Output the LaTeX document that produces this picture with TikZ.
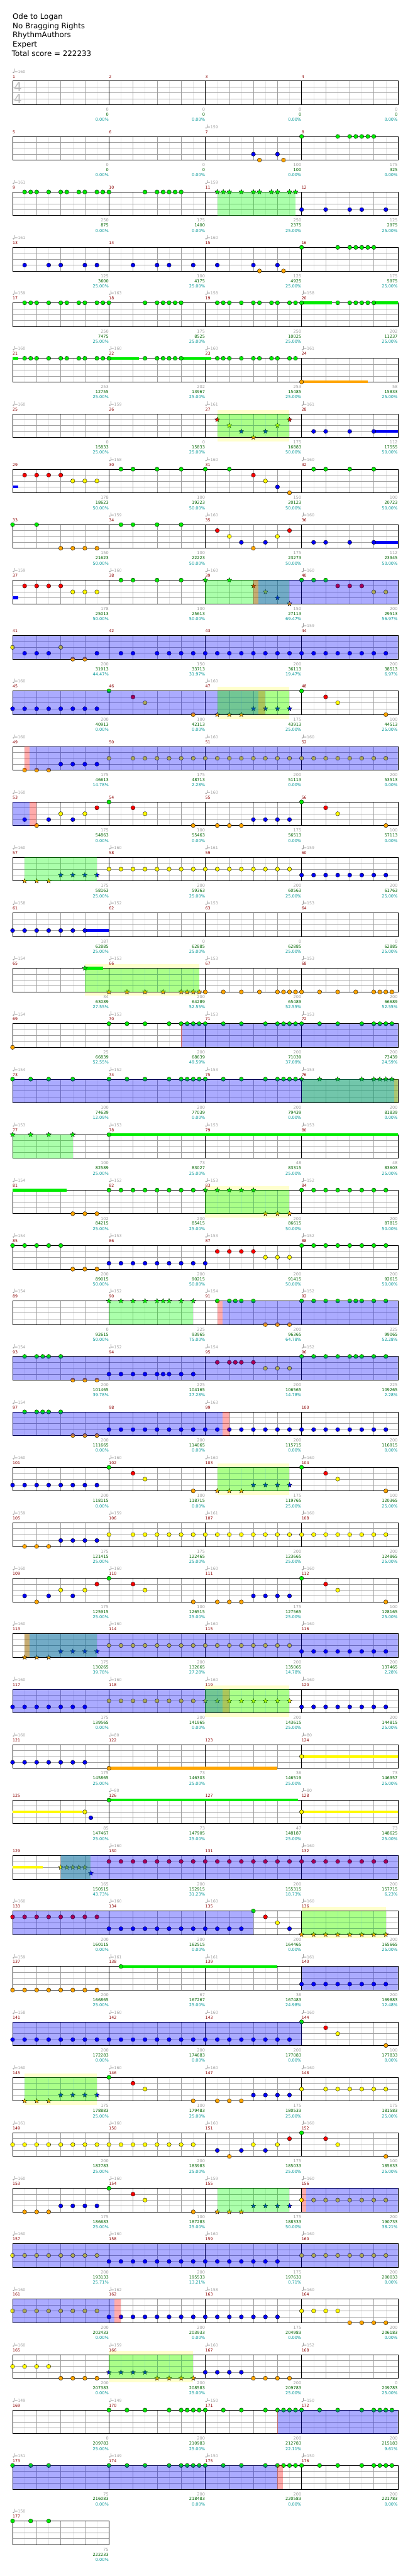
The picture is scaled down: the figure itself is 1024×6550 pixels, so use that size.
\documentclass[tikz,border=0pt]{standalone}
\usepackage{fontspec}
\setmainfont{DejaVu Sans}
\usetikzlibrary{shapes.geometric}
\definecolor{NoteGreen}{RGB}{0,235,0}
\definecolor{NoteRed}{RGB}{250,0,0}
\definecolor{NoteYellow}{RGB}{255,250,0}
\definecolor{NoteBlue}{RGB}{0,0,245}
\definecolor{NoteOrange}{RGB}{255,165,0}
\colorlet{lane0}{NoteGreen}
\colorlet{lane1}{NoteRed}
\colorlet{lane2}{NoteYellow}
\colorlet{lane3}{NoteBlue}
\colorlet{lane4}{NoteOrange}
\definecolor{SPGreen}{RGB}{0,255,0}
\definecolor{SPBlue}{RGB}{0,0,255}
\definecolor{SPRed}{RGB}{255,0,0}
\definecolor{PaleYellow}{RGB}{255,255,205}
\definecolor{BarRed}{RGB}{139,0,0}
\definecolor{LabelGray}{RGB}{160,160,160}
\definecolor{ScoreGreen}{RGB}{0,100,0}
\definecolor{PctTeal}{RGB}{0,150,150}
\definecolor{BeatGray}{RGB}{160,160,160}
\definecolor{HalfGray}{RGB}{230,230,230}

\pgfdeclarelayer{pale}
\pgfdeclarelayer{grid}
\pgfdeclarelayer{hold}
\pgfdeclarelayer{over}
\pgfsetlayers{pale,grid,hold,main,over}

% row, lane, beats
\newcommand{\gems}[3]{%
  \foreach \b in {#3}
    \draw[gem, fill=lane#2] ({32+61.25*\b},{206+141*(#1-1)+15*#2}) circle[radius=5.3pt];}
\newcommand{\stargems}[3]{%
  \foreach \b in {#3}
    \node[spstar, fill=lane#2] at ({32+61.25*\b},{206+141*(#1-1)+15*#2}) {};}
% row, lane, from, to
\newcommand{\holdbar}[4]{%
  \begin{pgfonlayer}{hold}
    \fill[lane#2] ({32+61.25*#3},{206+141*(#1-1)+15*#2-3.5}) rectangle ({32+61.25*#4},{206+141*(#1-1)+15*#2+3.5});
  \end{pgfonlayer}}
% row, colour, from, to
\newcommand{\zone}[4]{%
  \begin{pgfonlayer}{over}
    \fill[#2, fill opacity=0.33] ({32+61.25*#3},{206+141*(#1-1)}) rectangle ({32+61.25*#4},{206+141*(#1-1)+60});
  \end{pgfonlayer}}
% row, from, to
\newcommand{\halo}[3]{%
  \begin{pgfonlayer}{pale}
    \fill[PaleYellow] ({32+61.25*#2},{206+141*(#1-1)-10}) rectangle ({32+61.25*#3},{206+141*(#1-1)+70});
  \end{pgfonlayer}}
% row, measures
\newcommand{\staffrow}[2]{%
  \begin{pgfonlayer}{grid}
    \pgfmathsetmacro\yt{206+141*(#1-1)}
    \pgfmathsetmacro\xe{32+245*#2}
    \pgfmathtruncatemacro\nb{4*#2}
    \foreach \b in {1,...,\nb} {
      \draw[eighthline] ({32+61.25*(\b-0.5)},\yt) -- ++(0,60);
      \draw[beatline] ({32+61.25*\b},\yt) -- ++(0,60);
    }
    \foreach \l in {1,2,3}
      \draw[laneline] (32,\yt+15*\l) -- (\xe,\yt+15*\l);
    \foreach \mm in {1,...,#2}
      \draw[barline] ({32+245*\mm},\yt) -- ++(0,60);
    \draw[staffframe] (32,\yt) rectangle (\xe,\yt+60);
  \end{pgfonlayer}}
% measure, tempo, points, total, percent
\newcommand{\barlabels}[5]{%
  \pgfmathtruncatemacro\rr{floor((#1-1)/4)}
  \pgfmathtruncatemacro\cc{mod(#1-1,4)}
  \pgfmathsetmacro\xa{32+245*\cc}
  \pgfmathsetmacro\yt{206+141*\rr}
  \node[barnum] (bar#1) at (\xa,\yt-7.7) {#1};
  \ifnum#2>0
    \fill[LabelGray] (\xa+2.2,\yt-21.8) ellipse[x radius=2.2pt, y radius=1.7pt];
    \draw[LabelGray, line width=0.7pt] (\xa+4,\yt-22) -- (\xa+4,\yt-31);
    \node[tempo] (tempo#1) at (\xa+5,\yt-20.4) {=#2};
  \fi
  \node[basepts] (base#1) at (\xa+244.5,\yt+76.3) {#3};
  \node[totalpts] (total#1) at (\xa+244.5,\yt+89) {#4};
  \node[pctlabel] (pct#1) at (\xa+244.5,\yt+102.3) {#5\%};}

\begin{document}
\begin{tikzpicture}[x=1pt, y=-1pt,
    gem/.style={draw=black, line width=0.6pt},
    spstar/.style={star, star points=5, star point ratio=2.3, minimum size=13pt, inner sep=0pt, draw=black, line width=0.5pt},
    eighthline/.style={HalfGray, line width=0.6pt},
    beatline/.style={BeatGray, line width=0.7pt},
    laneline/.style={BeatGray, line width=0.9pt},
    barline/.style={black, line width=0.7pt},
    staffframe/.style={black, line width=1.1pt},
    barnum/.style={anchor=base west, inner sep=0pt, text=BarRed, font=\fontsize{10}{12}\selectfont},
    tempo/.style={anchor=base west, inner sep=0pt, text=LabelGray, font=\fontsize{10}{12}\selectfont},
    basepts/.style={anchor=base east, inner sep=0pt, text=LabelGray, font=\fontsize{10.5}{12}\selectfont},
    totalpts/.style={anchor=base east, inner sep=0pt, text=ScoreGreen, font=\fontsize{10.5}{12}\selectfont},
    pctlabel/.style={anchor=base east, inner sep=0pt, text=PctTeal, font=\fontsize{10.5}{12}\selectfont},
    titletext/.style={anchor=base west, inner sep=0pt, font=\fontsize{19}{22}\selectfont},
    timesig/.style={anchor=base, inner sep=0pt, text=LabelGray!70, font=\fontsize{32}{34}\selectfont}
  ]
  \begin{pgfonlayer}{pale}
    \fill[white] (0,0) rectangle (1024,6550);
  \end{pgfonlayer}
  \useasboundingbox (0,0) rectangle (1024,6550);

  % header
  \node[titletext] (song) at (32,49.3) {Ode to Logan};
  \node[titletext] (artist) at (32,72.6) {No Bragging Rights};
  \node[titletext] (charter) at (32,95.9) {RhythmAuthors};
  \node[titletext] (level) at (32,119.2) {Expert};
  \node[titletext] (total) at (30,142.5) {Total score = 222233};

  % staves
  \foreach \k in {1,...,44} \staffrow{\k}{4};
  \staffrow{45}{1}
  \node[timesig] (tsup) at (45.7,232.3) {4};
  \node[timesig] (tsdown) at (45.7,262.3) {4};

  % measure labels
  \foreach \m/\tp/\g/\s/\p in {
    1/160/0/0/0.00, 2/0/0/0/0.00, 3/0/0/0/0.00, 4/0/0/0/0.00,
    5/0/0/0/0.00, 6/0/0/0/0.00, 7/159/100/100/0.00, 8/0/175/325/0.00,
    9/161/250/875/0.00, 10/0/175/1400/0.00, 11/159/250/2375/25.00, 12/0/125/2975/25.00,
    13/161/125/3600/25.00, 14/0/100/4175/25.00, 15/160/125/4925/25.00, 16/0/175/5975/25.00,
    17/159/250/7475/25.00, 18/163/175/8525/25.00, 19/158/250/10025/25.00, 20/158/202/11237/25.00,
    21/160/253/12755/25.00, 22/160/202/13967/25.00, 23/160/253/15485/25.00, 24/161/58/15833/25.00,
    25/160/0/15833/25.00, 26/159/0/15833/25.00, 27/161/175/16883/50.00, 28/161/112/17555/50.00,
    29/0/178/18623/50.00, 30/158/100/19223/50.00, 31/160/150/20123/50.00, 32/160/100/20723/50.00,
    33/0/150/21623/50.00, 34/159/100/22223/50.00, 35/160/175/23273/50.00, 36/160/112/23945/50.00,
    37/159/178/25013/50.00, 38/160/100/25613/50.00, 39/160/150/27113/69.47, 40/160/200/29513/56.97,
    41/0/200/31913/44.47, 42/0/150/33713/31.97, 43/0/200/36113/19.47, 44/159/200/38513/6.97,
    45/160/200/40913/0.00, 46/0/100/42113/0.00, 47/160/175/43913/25.00, 48/0/100/44513/25.00,
    49/160/175/46613/14.78, 50/0/175/48713/2.28, 51/160/200/51113/0.00, 52/160/200/53513/0.00,
    53/160/175/54863/0.00, 54/0/100/55463/0.00, 55/160/175/56513/0.00, 56/0/100/57113/0.00,
    57/160/175/58163/25.00, 58/160/200/59363/25.00, 59/161/200/60563/25.00, 60/159/200/61763/25.00,
    61/158/187/62885/25.00, 62/152/0/62885/25.00, 63/153/0/62885/25.00, 64/153/0/62885/25.00,
    65/154/34/63089/27.55, 66/153/200/64289/52.55, 67/153/200/65489/52.55, 68/153/200/66689/52.55,
    69/154/25/66839/52.55, 70/153/200/68639/49.59, 71/153/200/71039/37.09, 72/153/200/73439/24.59,
    73/154/100/74639/12.09, 74/152/200/77039/0.00, 75/153/200/79439/0.00, 76/153/200/81839/0.00,
    77/153/100/82589/25.00, 78/153/73/83027/25.00, 79/153/48/83315/25.00, 80/153/48/83603/25.00,
    81/154/102/84215/25.00, 82/152/200/85415/25.00, 83/153/200/86615/50.00, 84/152/200/87815/50.00,
    85/154/200/89015/50.00, 86/153/200/90215/50.00, 87/153/200/91415/50.00, 88/152/200/92615/50.00,
    89/154/0/92615/50.00, 90/152/225/93965/75.00, 91/154/200/96365/64.78, 92/152/225/99065/52.28,
    93/154/200/101465/39.78, 94/152/225/104165/27.28, 95/154/200/106565/14.78, 96/152/225/109265/2.28,
    97/154/200/111665/0.00, 98/0/200/114065/0.00, 99/163/200/115715/0.00, 100/0/200/116915/0.00,
    101/160/200/118115/0.00, 102/160/100/118715/0.00, 103/160/175/119765/25.00, 104/160/100/120365/25.00,
    105/159/175/121415/25.00, 106/159/175/122465/25.00, 107/161/200/123665/25.00, 108/160/200/124865/25.00,
    109/160/175/125915/25.00, 110/160/100/126515/25.00, 111/160/175/127565/25.00, 112/160/100/128165/25.00,
    113/160/175/130265/39.78, 114/160/200/132665/27.28, 115/160/200/135065/14.78, 116/160/200/137465/2.28,
    117/160/175/139565/0.00, 118/160/200/141965/0.00, 119/160/200/143615/25.00, 120/160/200/144815/25.00,
    121/160/175/145865/25.00, 122/80/73/146303/25.00, 123/0/36/146519/25.00, 124/80/73/146957/25.00,
    125/0/85/147467/25.00, 126/80/73/147905/25.00, 127/0/47/148187/25.00, 128/80/73/148625/25.00,
    129/0/165/150515/43.73, 130/160/200/152915/31.23, 131/0/200/155315/18.73, 132/160/200/157715/6.23,
    133/160/200/160115/0.00, 134/160/200/162515/0.00, 135/160/200/164465/0.00, 136/160/200/165665/25.00,
    137/159/200/166865/25.00, 138/161/67/167267/25.00, 139/161/36/167483/24.98, 140/161/200/169883/12.48,
    141/158/200/172283/0.00, 142/160/200/174683/0.00, 143/160/200/177083/0.00, 144/160/100/177833/0.00,
    145/160/175/178883/25.00, 146/160/100/179483/25.00, 147/160/175/180533/25.00, 148/160/175/181583/25.00,
    149/161/200/182783/25.00, 150/160/200/183983/25.00, 151/160/175/185033/25.00, 152/160/100/185633/25.00,
    153/160/175/186683/25.00, 154/160/100/187283/25.00, 155/159/175/188333/50.00, 156/160/200/190733/38.21,
    157/160/200/193133/25.71, 158/160/200/195533/13.21, 159/160/175/197633/0.71, 160/160/200/200033/0.00,
    161/160/200/202433/0.00, 162/162/200/203933/0.00, 163/158/175/204983/0.00, 164/160/200/206183/0.00,
    165/160/200/207383/0.00, 166/159/200/208583/25.00, 167/160/200/209783/25.00, 168/152/0/209783/25.00,
    169/149/0/209783/25.00, 170/149/200/210983/25.00, 171/150/200/212783/22.11, 172/150/200/215183/9.61,
    173/151/75/216083/0.00, 174/149/200/218483/0.00, 175/150/200/220583/0.00, 176/150/200/221783/0.00,
    177/150/75/222233/0.00}
    \barlabels{\m}{\tp}{\g}{\s}{\p};

  % notes, row by row
  \gems{2}{0}{12,13.5,14,14.25,14.5,14.75,15}
  \gems{2}{3}{10,11}
  \gems{2}{4}{10.25,11.25}

  \gems{3}{0}{0.5,0.75,1,1.5,2,2.25,2.75,3,3.5,3.75,4,5.5,6,6.25,6.5,6.75,7}
  \stargems{3}{0}{8.5,8.75,9,9.5,10,10.25,10.75,11,11.5,11.75}
  \zone{3}{SPGreen}{8.5}{11.75}
  \gems{3}{3}{12,13,14,14.5,15.5}

  \gems{4}{3}{0.5,1.5,2,3,3.5,5,6,6.5,7.5,8.5,10,11}
  \gems{4}{4}{10.25,11.25}
  \gems{4}{0}{12,13.5,14,14.25,14.5,14.75,15}

  \gems{5}{0}{0.5,0.75,1,1.5,2,2.25,2.75,3,3.5,3.75,4,5.5,6,6.25,6.5,6.75,7,8.5,8.75,9,9.5,10,10.25,10.75,11,11.5,11.75,12,13.5,14,14.25,14.5,14.75,15}
  \holdbar{5}{0}{12}{13.25}
  \holdbar{5}{0}{15}{16}

  \holdbar{6}{0}{0}{0.24}
  \gems{6}{0}{0.5,0.75,1,1.5,2,2.25,2.75,3,3.5,3.75,4,5.5,6,6.25,6.5,6.75,7,8.5,8.75,9,9.5,10,10.25,10.75,11,11.5,11.75}
  \holdbar{6}{0}{4}{5.25}
  \holdbar{6}{0}{7}{8.24}
  \gems{6}{4}{12}
  \holdbar{6}{4}{12}{14.75}

  \halo{7}{8.5}{11.5}
  \zone{7}{SPGreen}{8.5}{11.5}
  \stargems{7}{1}{8.5,11.5}
  \stargems{7}{2}{9,11}
  \stargems{7}{3}{9.5,10.5}
  \stargems{7}{4}{10}
  \gems{7}{3}{12.5,13,14,15}
  \holdbar{7}{3}{15}{16}

  \holdbar{8}{3}{0}{0.24}
  \gems{8}{1}{0.5,1,1.5,2,10}
  \gems{8}{2}{2.5,3,3.5,10.5}
  \gems{8}{0}{4.5,5,6,7,8,9,12.5,13,14,15}
  \gems{8}{3}{11}
  \gems{8}{4}{11.5}

  \gems{9}{0}{0,1,4.5,5,6,7}
  \gems{9}{4}{2,2.5,3,3.5,10}
  \gems{9}{1}{8.5,11.5}
  \gems{9}{2}{9,11}
  \gems{9}{3}{9.5,10.5,12.5,13,14,15}
  \holdbar{9}{3}{15}{16}

  \holdbar{10}{3}{0}{0.24}
  \gems{10}{1}{0.5,1,1.5,2,13.5,14,14.5}
  \gems{10}{2}{2.5,3,3.5,15,15.5}
  \gems{10}{0}{4.5,5,6,7,12,12.5,13}
  \stargems{10}{0}{8,9}
  \stargems{10}{1}{10}
  \stargems{10}{2}{10.5}
  \stargems{10}{3}{11}
  \stargems{10}{4}{11.5}
  \zone{10}{SPGreen}{8}{11.5}
  \zone{10}{SPRed}{10}{10.2}
  \zone{10}{SPBlue}{10.2}{16}

  \zone{11}{SPBlue}{0}{16}
  \gems{11}{2}{0,2}
  \gems{11}{3}{0.5,1,1.5,3.5,4.5,5}
  \gems{11}{3}{6,6.5,...,15.5}
  \gems{11}{4}{2.5,3}

  \halo{12}{8.5}{11.5}
  \zone{12}{SPBlue}{0}{10.22}
  \zone{12}{SPRed}{10.22}{10.5}
  \zone{12}{SPGreen}{8.5}{11.5}
  \gems{12}{3}{0,0.5,...,3.5}
  \gems{12}{0}{4,12}
  \gems{12}{1}{5,13}
  \gems{12}{2}{5.5,13.5}
  \gems{12}{4}{7.5,15.5}
  \stargems{12}{4}{8.5,9,9.5}
  \stargems{12}{3}{10,10.5,11,11.5}

  \zone{13}{SPRed}{0.5}{0.71}
  \zone{13}{SPBlue}{0.71}{16}
  \gems{13}{4}{0.5,1,1.5}
  \gems{13}{3}{2,2.5,3,3.5}
  \gems{13}{2}{4}
  \gems{13}{2}{5,5.5,...,15.5}

  \zone{14}{SPBlue}{0}{0.71}
  \zone{14}{SPRed}{0.71}{1}
  \gems{14}{3}{0.5,1.5,2.5,10,10.5,11,11.5}
  \gems{14}{4}{1,7.5,8.5,9,9.5,15.5}
  \gems{14}{2}{2,3,5.5,13.5}
  \gems{14}{1}{3.5,5,13}
  \gems{14}{0}{4,12}

  \zone{15}{SPGreen}{0.5}{3.5}
  \stargems{15}{4}{0.5,1,1.5}
  \stargems{15}{3}{2,2.5,3,3.5}
  \gems{15}{2}{4,4.5,...,11.5}
  \gems{15}{3}{12,12.5,...,15.5}

  \gems{16}{3}{0,0.5,...,3}
  \holdbar{16}{3}{3}{4}

  \halo{17}{3}{7.75}
  \zone{17}{SPGreen}{3}{7.75}
  \stargems{17}{0}{3}
  \holdbar{17}{0}{3}{3.75}
  \stargems{17}{4}{4,4.75,5.5,6.25,7,7.25,7.5,7.75}
  \gems{17}{4}{8,8.75,9.5,10.25,11,11.25,11.5,11.75,12,12.75,13.5,14.25,15,15.25,15.5,15.75}

  \gems{18}{4}{0}
  \gems{18}{0}{4,4.75,5.5,6.5,7,7.25,7.5,7.75,8,8.75,9.5,10.5,11,11.25,11.5,11.75,12,12.75,13.5,14.5,15,15.25,15.5,15.75}
  \zone{18}{SPRed}{7}{7.04}
  \zone{18}{SPBlue}{7.04}{16}

  \zone{19}{SPBlue}{0}{15.85}
  \zone{19}{SPRed}{15.85}{16}
  \zone{19}{SPGreen}{12}{16}
  \gems{19}{0}{0,0.75,1.5,2.5,4,4.75,5.5,6.5,7,7.25,7.5,7.75,8,8.75,9.5,10.5,11,11.25,11.5,11.75}
  \stargems{19}{0}{12,12.75,13.5,14.5,15,15.25,15.5,15.75}

  \zone{20}{SPGreen}{0}{2.5}
  \stargems{20}{0}{0,0.75,1.5,2.5}
  \gems{20}{0}{4}
  \holdbar{20}{0}{4}{16}

  \holdbar{21}{0}{0}{2.25}
  \gems{21}{4}{2.5,3,3.5}
  \gems{21}{0}{4,4.5,...,7.5}
  \gems{21}{0}{12,12.5,...,15.5}
  \halo{21}{8}{11.5}
  \zone{21}{SPGreen}{8}{11.5}
  \stargems{21}{0}{8,8.5,9,9.5,10}
  \stargems{21}{4}{10.5,11,11.5}

  \gems{22}{0}{0,0.5,1,1.5,2}
  \gems{22}{4}{2.5,3,3.5}
  \gems{22}{3}{4,4.5,...,8}
  \gems{22}{1}{8.5,9,9.5,10}
  \gems{22}{2}{10.5,11,11.5}
  \gems{22}{0}{12,12.5,...,15.5}

  \zone{23}{SPGreen}{4}{7.5}
  \stargems{23}{0}{4,4.5,5,5.5,6,6.25,6.5,7,7.5}
  \zone{23}{SPRed}{8.5}{8.71}
  \zone{23}{SPBlue}{8.71}{16}
  \gems{23}{0}{8.5,9,9.25,9.5,10,12,12.5,13,13.5,14,14.25,14.5,15,15.5}
  \gems{23}{4}{10.5,11,11.5}

  \zone{24}{SPBlue}{0}{16}
  \gems{24}{0}{0.5,1,1.25,1.5,2,12,12.5,13,13.5,14,14.25,14.5,15,15.5}
  \gems{24}{4}{2.5,3,3.5}
  \gems{24}{3}{4,4.5,5,5.5,6,6.25,6.5,7,7.5}
  \gems{24}{1}{8.5,9,9.25,9.5,10}
  \gems{24}{2}{10.5,11,11.5}

  \zone{25}{SPBlue}{0}{8.71}
  \zone{25}{SPRed}{8.71}{9}
  \gems{25}{0}{0.5,1,1.25,1.5,2}
  \gems{25}{4}{2.5,3,3.5}
  \gems{25}{3}{4,4.5,...,15.5}

  \gems{26}{3}{0,0.5,...,3.5}
  \gems{26}{0}{4,12}
  \gems{26}{1}{5,13}
  \gems{26}{2}{5.5,13.5}
  \gems{26}{4}{7.5,15.5}
  \halo{26}{8.5}{11.5}
  \zone{26}{SPGreen}{8.5}{11.5}
  \stargems{26}{4}{8.5,9,9.5}
  \stargems{26}{3}{10,10.5,11,11.5}

  \gems{27}{4}{0.5,1,1.5}
  \gems{27}{3}{2,2.5,3,3.5}
  \gems{27}{2}{4}
  \gems{27}{2}{5,5.5,...,15.5}

  \gems{28}{3}{0.5,1.5,2.5,10,10.5,11,11.5}
  \gems{28}{4}{1,7.5,8.5,9,9.5,15.5}
  \gems{28}{2}{2,3,5.5,13.5}
  \gems{28}{1}{3.5,5,13}
  \gems{28}{0}{4,12}

  \zone{29}{SPGreen}{0.5}{3.5}
  \zone{29}{SPRed}{0.5}{0.71}
  \zone{29}{SPBlue}{0.71}{16}
  \stargems{29}{4}{0.5,1,1.5}
  \stargems{29}{3}{2,2.5,3,3.5}
  \gems{29}{2}{4,4.5,...,11.5}
  \gems{29}{3}{12,12.5,...,15.5}

  \halo{30}{8}{11.5}
  \zone{30}{SPBlue}{0}{8.73}
  \zone{30}{SPRed}{8.73}{9}
  \zone{30}{SPGreen}{8}{11.5}
  \gems{30}{3}{0,0.5,...,3}
  \gems{30}{2}{4,4.5,...,7.5}
  \stargems{30}{2}{8,8.5,...,11.5}
  \gems{30}{3}{12,12.5,...,15.5}

  \gems{31}{3}{0,0.5,...,3}
  \gems{31}{4}{4}
  \holdbar{31}{4}{4}{11}
  \gems{31}{2}{12}
  \holdbar{31}{2}{12}{16}

  \holdbar{32}{2}{0}{2.9}
  \gems{32}{2}{3,12}
  \gems{32}{3}{3.25}
  \gems{32}{0}{4}
  \holdbar{32}{0}{4}{11.86}
  \holdbar{32}{2}{12}{16}

  \holdbar{33}{2}{0}{1.24}
  \zone{33}{SPGreen}{2}{3.25}
  \zone{33}{SPBlue}{2}{16}
  \stargems{33}{2}{2,2.25,2.5,2.75,3}
  \stargems{33}{3}{3.25}
  \gems{33}{1}{4,4.5,...,15.5}

  \zone{34}{SPBlue}{0}{10}
  \gems{34}{1}{0,0.5,...,3.5}
  \gems{34}{1}{10.5}
  \gems{34}{3}{4,4.5,...,9.5}
  \gems{34}{3}{11.5}
  \gems{34}{0}{10}
  \gems{34}{2}{11}
  \halo{34}{12}{15.5}
  \zone{34}{SPGreen}{12}{15.5}
  \stargems{34}{4}{12,12.5,...,15.5}

  \gems{35}{4}{0,0.5,...,3.5}
  \gems{35}{0}{4.5}
  \holdbar{35}{0}{4.5}{11}
  \zone{35}{SPBlue}{12}{16}
  \gems{35}{3}{12,12.5,...,15.5}

  \zone{36}{SPBlue}{0}{12}
  \gems{36}{3}{0,0.5,...,11.5}
  \gems{36}{0}{12}
  \gems{36}{1}{13}
  \gems{36}{2}{13.5}
  \gems{36}{4}{15.5}

  \halo{37}{0.5}{3.5}
  \zone{37}{SPGreen}{0.5}{3.5}
  \stargems{37}{4}{0.5,1,1.5}
  \stargems{37}{3}{2,2.5,3,3.5}
  \gems{37}{0}{4}
  \gems{37}{1}{5}
  \gems{37}{2}{5.5}
  \gems{37}{4}{7.5,8.5,9,9.5}
  \gems{37}{3}{10,10.5,11,11.5}
  \gems{37}{2}{12,13,13.5,14,14.5,15,15.5}

  \gems{38}{2}{0,0.5,...,7.5}
  \gems{38}{3}{8.5,9.5,10.5}
  \gems{38}{4}{9,15.5}
  \gems{38}{2}{10,11,13.5}
  \gems{38}{1}{11.5,13}
  \gems{38}{0}{12}

  \gems{39}{4}{0.5,1,1.5,7.5}
  \gems{39}{3}{2,2.5,3,3.5}
  \gems{39}{0}{4}
  \gems{39}{1}{5}
  \gems{39}{2}{5.5}
  \zone{39}{SPGreen}{8.5}{11.5}
  \stargems{39}{4}{8.5,9,9.5}
  \stargems{39}{3}{10,10.5,11,11.5}
  \zone{39}{SPRed}{12}{12.2}
  \zone{39}{SPBlue}{12.2}{16}
  \gems{39}{2}{12,12.5,...,15.5}

  \zone{40}{SPBlue}{0}{16}
  \gems{40}{2}{0,0.5,...,3.5}
  \gems{40}{3}{4,4.5,...,11}
  \gems{40}{2}{12,12.5,...,15.5}

  \zone{41}{SPBlue}{0}{4.22}
  \zone{41}{SPRed}{4.22}{4.5}
  \gems{41}{2}{0,0.5,...,3.5}
  \gems{41}{3}{4,4.5,...,11}
  \gems{41}{2}{12,12.5,13,13.5}
  \gems{41}{4}{14,14.5,15,15.5}

  \gems{42}{2}{0,0.5,1,1.5}
  \gems{42}{4}{2,2.5,3,3.5}
  \halo{42}{4}{7.5}
  \zone{42}{SPGreen}{4}{7.5}
  \stargems{42}{3}{4,4.5,5,5.5}
  \stargems{42}{4}{6,6.5,7,7.5}
  \gems{42}{3}{8,8.5,9,9.5}
  \gems{42}{4}{10,10.5,11,11.5}

  \gems{43}{0}{4,4.75,5.5,6.5,7,7.25,7.5,7.75,8,8.75,9.5,10.5,11,11.25,11.5,11.75,12,12.75,13.5,14.5,15,15.25,15.5,15.75}
  \zone{43}{SPRed}{11}{11.03}
  \zone{43}{SPBlue}{11.03}{16}

  \zone{44}{SPBlue}{0}{11}
  \zone{44}{SPRed}{11}{11.22}
  \gems{44}{0}{0,0.75,1.5,4,4.75,5.5,6.5,7,7.25,7.5,7.75,8,8.75,9.5,10.5,11,11.25,11.5,11.75,12,12.75,13.5,14.5,15,15.25,15.5,15.75}

  \gems{45}{0}{0,0.75,1.5}
\end{tikzpicture}
\end{document}
